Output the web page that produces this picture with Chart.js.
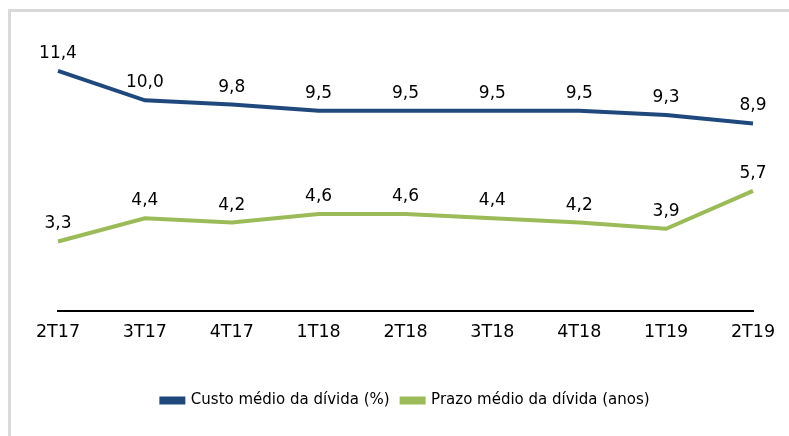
<!DOCTYPE html>
<html>
<head>
<meta charset="utf-8">
<script src="https://cdn.jsdelivr.net/npm/chart.js@4/dist/chart.umd.min.js"></script>
<style>
  html, body { margin: 0; padding: 0; background: #ffffff; overflow: hidden; }
  canvas { display: block; }
</style>
</head>
<body>
<canvas id="c" width="789" height="436"></canvas>
<script>
const categories = ['2T17', '3T17', '4T17', '1T18', '2T18', '3T18', '4T18', '1T19', '2T19'];
const custoMedio = [11.4, 10.0, 9.8, 9.5, 9.5, 9.5, 9.5, 9.3, 8.9];
const prazoMedio = [3.3, 4.4, 4.2, 4.6, 4.6, 4.4, 4.2, 3.9, 5.7];
const seriesNames = ['Custo médio da dívida (%)', 'Prazo médio da dívida (anos)'];
const seriesColors = ['#1f497d', '#9bbb59'];

const FONT = 'DejaVu Sans';

const framePlugin = {
  id: 'frame',
  beforeDraw(chart) {
    const ctx = chart.ctx;
    ctx.save();
    ctx.fillStyle = '#d9d9d9';
    ctx.fillRect(8, 9, 3, chart.height - 9);
    ctx.fillRect(8, 9, chart.width - 8, 3);
    ctx.restore();
  }
};

const labelPlugin = {
  id: 'valueLabels',
  afterDatasetsDraw(chart) {
    const ctx = chart.ctx;
    ctx.save();
    ctx.font = '17px "' + FONT + '"';
    ctx.fillStyle = '#000000';
    ctx.textAlign = 'center';
    ctx.textBaseline = 'alphabetic';
    chart.data.datasets.forEach((ds, i) => {
      const meta = chart.getDatasetMeta(i);
      meta.data.forEach((pt, j) => {
        const txt = ds.data[j].toFixed(1).replace('.', ',');
        ctx.fillText(txt, pt.x, pt.y - 13);
      });
    });
    ctx.restore();
  }
};

new Chart(document.getElementById('c'), {
  type: 'line',
  data: {
    labels: categories,
    datasets: [
      { label: seriesNames[0], data: custoMedio, borderColor: seriesColors[0], backgroundColor: seriesColors[0], borderWidth: 4, pointRadius: 0, tension: 0 },
      { label: seriesNames[1], data: prazoMedio, borderColor: seriesColors[1], backgroundColor: seriesColors[1], borderWidth: 4, pointRadius: 0, tension: 0 }
    ]
  },
  options: {
    responsive: false,
    animation: false,
    layout: { padding: { left: 58, right: 36, top: 16, bottom: 18 } },
    scales: {
      x: {
        offset: false,
        grid: { display: false, drawTicks: false },
        border: { display: true, color: '#000000', width: 2 },
        ticks: { color: '#000000', font: { family: FONT, size: 17.5 }, padding: 11, maxRotation: 0, autoSkip: false },
        afterFit(scale) { scale.height = 70; }
      },
      y: {
        display: false,
        min: 0,
        max: 14
      }
    },
    plugins: {
      legend: {
        position: 'bottom',
        labels: {
          color: '#000000',
          font: { family: FONT, size: 15 },
          boxWidth: 22,
          boxHeight: 4,
          padding: 12
        }
      },
      tooltip: { enabled: false }
    }
  },
  plugins: [framePlugin, labelPlugin]
});
</script>
</body>
</html>
